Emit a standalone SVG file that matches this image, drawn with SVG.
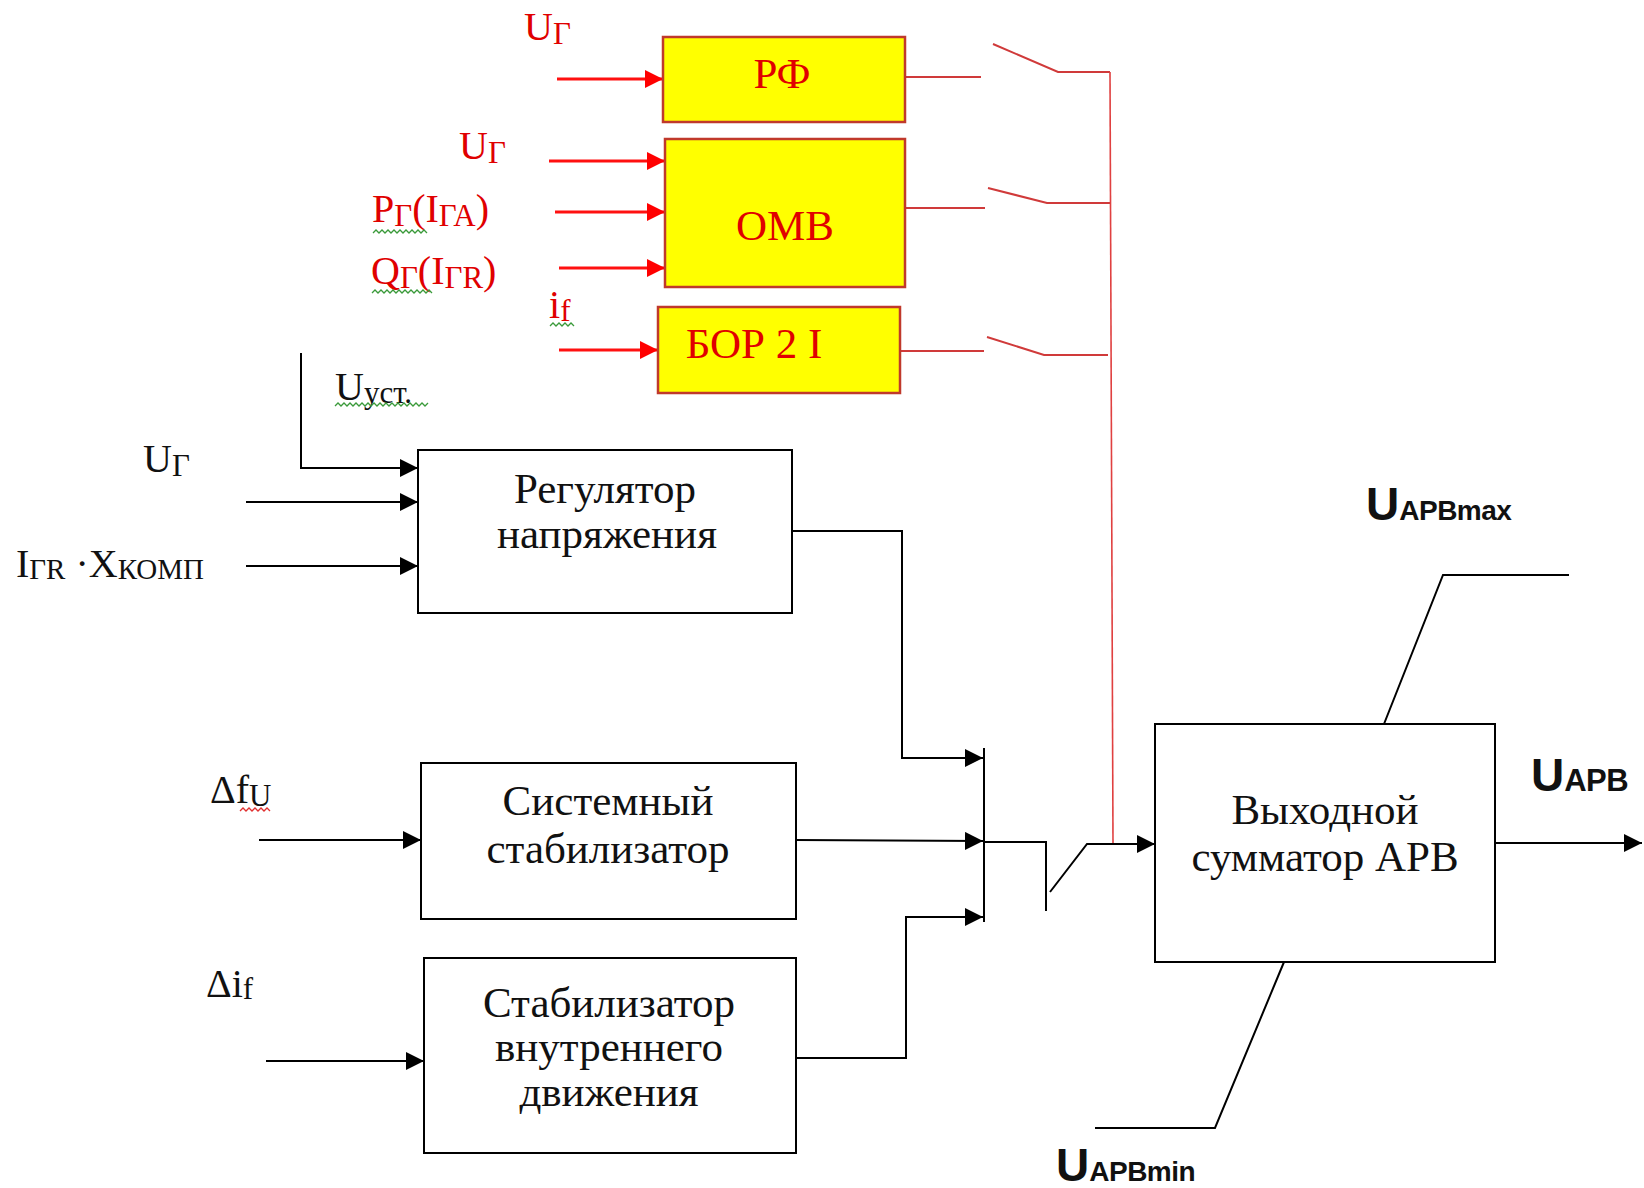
<svg xmlns="http://www.w3.org/2000/svg" width="1644" height="1188" viewBox="0 0 1644 1188">
<defs>
<marker id="ab" markerUnits="userSpaceOnUse" markerWidth="20" markerHeight="20" refX="18" refY="9" orient="auto"><path d="M0,0 L18,9 L0,18 Z" fill="#000"/></marker>
<marker id="ar" markerUnits="userSpaceOnUse" markerWidth="20" markerHeight="20" refX="18" refY="9" orient="auto"><path d="M0,0 L18,9 L0,18 Z" fill="#FF0000"/></marker>
<style>
.bk{fill:none;stroke:#000;stroke-width:2}
.rd{fill:none;stroke:#FF1010;stroke-width:3}
.sw{fill:none;stroke:#D03A3A;stroke-width:2}
.bus{fill:none;stroke:#E04040;stroke-width:1.6}
.ybox{fill:#FFFF00;stroke:#C0392B;stroke-width:2.5}
.wbox{fill:#fff;stroke:#000;stroke-width:2}
.rt{font-family:"Liberation Serif","Times New Roman",serif;font-size:43px;fill:#E00000}
.bt{font-family:"Liberation Serif","Times New Roman",serif;font-size:43px;fill:#111}
.lb{font-family:"Liberation Serif","Times New Roman",serif;font-size:40px}
.sub{font-size:31px}
.sf{font-family:"Liberation Sans",Arial,sans-serif;font-weight:bold;font-size:46px;fill:#111}
.ssub{font-size:28px;letter-spacing:-0.5px}
.sq{fill:none;stroke-width:1.3}
</style>
</defs>
<rect width="1644" height="1188" fill="#fff"/>

<g id="connectors">
<line class="rd" x1="557" y1="79" x2="663" y2="79" marker-end="url(#ar)"/>
<line class="rd" x1="549" y1="161" x2="665" y2="161" marker-end="url(#ar)"/>
<line class="rd" x1="555" y1="212" x2="665" y2="212" marker-end="url(#ar)"/>
<line class="rd" x1="559" y1="268" x2="665" y2="268" marker-end="url(#ar)"/>
<line class="rd" x1="559" y1="350" x2="658" y2="350" marker-end="url(#ar)"/>
<polyline class="sw" points="905,77 981,77"/>
<polyline class="sw" points="993,44 1058,72 1110,72"/>
<polyline class="sw" points="905,208 985,208"/>
<polyline class="sw" points="988,188 1047,203 1110,203"/>
<polyline class="sw" points="900,351 984,351"/>
<polyline class="sw" points="987,337 1044,355 1108,355"/>
<polyline class="bus" points="1110,72 1113,843"/>
<polyline class="bk" points="301,353 301,468 418,468" marker-end="url(#ab)"/>
<line class="bk" x1="246" y1="502" x2="418" y2="502" marker-end="url(#ab)"/>
<line class="bk" x1="246" y1="566" x2="418" y2="566" marker-end="url(#ab)"/>
<line class="bk" x1="259" y1="840" x2="421" y2="840" marker-end="url(#ab)"/>
<line class="bk" x1="266" y1="1061" x2="424" y2="1061" marker-end="url(#ab)"/>
<polyline class="bk" points="792,531 902,531 902,758 983,758" marker-end="url(#ab)"/>
<line class="bk" x1="796" y1="840" x2="983" y2="841" marker-end="url(#ab)"/>
<polyline class="bk" points="796,1058 906,1058 906,917 983,917" marker-end="url(#ab)"/>
<line class="bk" x1="984" y1="748" x2="984" y2="922"/>
<polyline class="bk" points="984,842 1046,842 1046,911"/>
<polyline class="bk" points="1050,892 1087,844 1155,844" marker-end="url(#ab)"/>
<line class="bk" x1="1495" y1="843" x2="1642" y2="843" marker-end="url(#ab)"/>
<polyline class="bk" points="1384,724 1443,575 1569,575"/>
<polyline class="bk" points="1284,962 1215,1128 1095,1128"/>
</g>

<g id="node-rf">
<rect class="ybox" x="663" y="37" width="242" height="85"/>
<text class="rt" x="782" y="88" text-anchor="middle">РФ</text>
</g>
<g id="node-omv">
<rect class="ybox" x="665" y="139" width="240" height="148"/>
<text class="rt" x="785" y="240" text-anchor="middle">ОМВ</text>
</g>
<g id="node-bor">
<rect class="ybox" x="658" y="307" width="242" height="86"/>
<text class="rt" x="754" y="358" text-anchor="middle">БОР 2 I</text>
</g>
<g id="node-reg">
<rect class="wbox" x="418" y="450" width="374" height="163"/>
<text class="bt" x="605" y="503" text-anchor="middle">Регулятор</text>
<text class="bt" x="607" y="548" text-anchor="middle">напряжения</text>
</g>
<g id="node-sys">
<rect class="wbox" x="421" y="763" width="375" height="156"/>
<text class="bt" x="608" y="815" text-anchor="middle">Системный</text>
<text class="bt" x="608" y="863" text-anchor="middle">стабилизатор</text>
</g>
<g id="node-int">
<rect class="wbox" x="424" y="958" width="372" height="195"/>
<text class="bt" x="609" y="1017" text-anchor="middle">Стабилизатор</text>
<text class="bt" x="609" y="1061" text-anchor="middle">внутреннего</text>
<text class="bt" x="609" y="1106" text-anchor="middle">движения</text>
</g>
<g id="node-sum">
<rect class="wbox" x="1155" y="724" width="340" height="238"/>
<text class="bt" x="1325" y="824" text-anchor="middle">Выходной</text>
<text class="bt" x="1325" y="871" text-anchor="middle">сумматор АРВ</text>
</g>

<g id="labels">
<text class="lb" fill="#E00000" x="524" y="40">U<tspan class="sub" dy="4">Г</tspan></text>
<text class="lb" fill="#E00000" x="459" y="159">U<tspan class="sub" dy="4">Г</tspan></text>
<text class="lb" fill="#E00000" x="372" y="222">P<tspan class="sub" dy="4">Г</tspan><tspan dy="-4">(I</tspan><tspan class="sub" dy="4">ГА</tspan><tspan dy="-4">)</tspan></text>
<text class="lb" fill="#E00000" x="371" y="284">Q<tspan class="sub" dy="4">Г</tspan><tspan dy="-4">(I</tspan><tspan class="sub" dy="4">ГR</tspan><tspan dy="-4">)</tspan></text>
<text class="lb" fill="#E00000" x="549" y="318">i<tspan class="sub" dy="3">f</tspan></text>
<text class="lb" fill="#111" x="335" y="400">U<tspan class="sub" dy="3">уст.</tspan></text>
<text class="lb" fill="#111" x="143" y="472">U<tspan class="sub" dy="4">Г</tspan></text>
<text class="lb" fill="#111" x="16" y="577">I<tspan class="sub" dy="2" style="font-size:29px">ГR</tspan><tspan dy="-2"> ·X</tspan><tspan class="sub" dy="2" style="font-size:29px">КОМП</tspan></text>
<text class="lb" fill="#111" x="210" y="803">Δf<tspan class="sub" dy="3">U</tspan></text>
<text class="lb" fill="#111" x="206" y="997">Δi<tspan class="sub" dy="2">f</tspan></text>
<text class="sf" x="1366" y="520">U<tspan class="ssub">АРВmax</tspan></text>
<text class="sf" x="1531" y="791">U<tspan class="ssub" style="font-size:31px">АРВ</tspan></text>
<text class="sf" x="1056" y="1181">U<tspan class="ssub">АРВmin</tspan></text>
<polyline class="sq" stroke="#3A9A3A" points="373,233 376,230 379,233 382,230 385,233 388,230 391,233 394,230 397,233 400,230 403,233 406,230 409,233 412,230 415,233 418,230 421,233 424,230 427,233"/>
<polyline class="sq" stroke="#3A9A3A" points="372,293 375,290 378,293 381,290 384,293 387,290 390,293 393,290 396,293 399,290 402,293 405,290 408,293 411,290 414,293 417,290 420,293 423,290 426,293 429,290 432,293"/>
<polyline class="sq" stroke="#3A9A3A" points="550,326 553,323 556,326 559,323 562,326 565,323 568,326 571,323 574,326"/>
<polyline class="sq" stroke="#3A9A3A" points="335,406 338,403 341,406 344,403 347,406 350,403 353,406 356,403 359,406 362,403 365,406 368,403 371,406 374,403 377,406 380,403 383,406 386,403 389,406 392,403 395,406 398,403 401,406 404,403 407,406 410,403 413,406 416,403 419,406 422,403 425,406 428,403"/>
<polyline class="sq" stroke="#E03030" points="240,811 243,808 246,811 249,808 252,811 255,808 258,811 261,808 264,811 267,808 270,811"/>
</g>
</svg>
